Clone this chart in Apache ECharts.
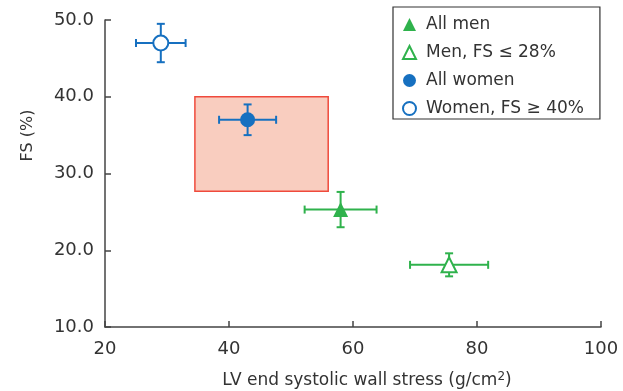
<!DOCTYPE html>
<html><head><meta charset="utf-8">
<script src="https://cdn.jsdelivr.net/npm/echarts@6/dist/echarts.min.js"></script>
<style>html,body{margin:0;padding:0;background:#fff}#c{width:623px;height:391px}</style>
</head><body><div id="c"></div>
<script>
const groups = ['All men', 'Men, FS \u2264 28%', 'All women', 'Women, FS \u2265 40%'];
const stressMean = [58, 75.5, 43, 29];
const stressSD = [5.8, 6.3, 4.6, 4.0];
const fsMean = [25.3, 18.1, 37, 47];
const fsSD = [2.3, 1.5, 2.0, 2.5];
const normalStress = [34.5, 56];
const normalFS = [27.7, 40];
const xTicks = [20, 40, 60, 80, 100];
const yTicks = [10, 20, 30, 40, 50];

const GREEN = '#2fb24c', BLUE = '#1670c0';
const colors = [GREEN, GREEN, BLUE, BLUE];
const symbols = ['triangle', 'triangle', 'circle', 'circle'];
const hollow = [false, true, false, true];
const FONT = 'DejaVu Sans';

const chart = echarts.init(document.getElementById('c'));
const series = [];
series.push({
  type: 'custom', silent: true, z: 1,
  data: [[normalStress[0], normalFS[0], normalStress[1], normalFS[1]]],
  renderItem: function (params, api) {
    const p0 = api.coord([api.value(0), api.value(3)]);
    const p1 = api.coord([api.value(2), api.value(1)]);
    return { type: 'rect', shape: { x: p0[0], y: p0[1], width: p1[0] - p0[0], height: p1[1] - p0[1] },
      style: { fill: '#f9cdbf', stroke: '#ef4a3c', lineWidth: 1.5 } };
  }
});
groups.forEach(function (g, i) {
  series.push({
    type: 'custom', silent: true, z: 2,
    data: [[stressMean[i], fsMean[i], stressSD[i], fsSD[i]]],
    renderItem: function (params, api) {
      const x = api.value(0), y = api.value(1), dx = api.value(2), dy = api.value(3);
      const l = api.coord([x - dx, y]), r = api.coord([x + dx, y]);
      const t = api.coord([x, y + dy]), b = api.coord([x, y - dy]);
      const c = 4;
      const st = { stroke: colors[i], lineWidth: 2 };
      const line = (x1, y1, x2, y2) => ({ type: 'line', shape: { x1, y1, x2, y2 }, style: st });
      return { type: 'group', children: [
        line(l[0], l[1], r[0], r[1]),
        line(t[0], t[1], b[0], b[1]),
        line(l[0], l[1] - c, l[0], l[1] + c),
        line(r[0], r[1] - c, r[0], r[1] + c),
        line(t[0] - c, t[1], t[0] + c, t[1]),
        line(b[0] - c, b[1], b[0] + c, b[1])
      ] };
    }
  });
  series.push({
    name: g, type: 'scatter', z: 3,
    symbol: symbols[i], symbolSize: 15,
    itemStyle: hollow[i] ? { color: '#fff', borderColor: colors[i], borderWidth: 2, opacity: 1 } : { color: colors[i], opacity: 1 },
    data: [[stressMean[i], fsMean[i]]]
  });
});

chart.setOption({
  animation: false,
  grid: { left: 105, right: 22, top: 20, bottom: 64, outerBoundsMode: 'none', containLabel: false },
  legend: {
    orient: 'vertical', left: 393, top: 7,
    padding: [9, 16, 2, 9], itemGap: 11, itemWidth: 13, itemHeight: 13,
    borderColor: '#333', borderWidth: 1.2, backgroundColor: '#fff',
    textStyle: { fontFamily: FONT, fontSize: 17, color: '#333', padding: [0, 0, 0, 5] },
    data: groups
  },
  xAxis: {
    type: 'value', min: 20, max: 100, interval: 20,
    name: 'LV end systolic wall stress (g/cm{s|2})', nameLocation: 'middle', nameGap: 44,
    nameTextStyle: { fontFamily: FONT, fontSize: 17, color: '#333', padding: [0, 0, 0, 28],
      rich: { s: { fontFamily: FONT, fontSize: 12, verticalAlign: 'top', padding: [0, 0, 8, 0], color: '#333' } } },
    axisLine: { lineStyle: { color: '#444', width: 1.5 } },
    axisTick: { inside: true, length: 6, lineStyle: { color: '#444', width: 1.5 } },
    axisLabel: { fontFamily: FONT, fontSize: 18, color: '#333', margin: 13,
      customValues: xTicks },
    splitLine: { show: false }
  },
  yAxis: {
    type: 'value', min: 10, max: 50, interval: 10,
    name: 'FS (%)', nameLocation: 'middle', nameGap: 69,
    nameTextStyle: { fontFamily: FONT, fontSize: 16, color: '#333', padding: [0, 0, 0, 76] },
    axisLine: { lineStyle: { color: '#444', width: 1.5 } },
    axisTick: { inside: true, length: 6, lineStyle: { color: '#444', width: 1.5 } },
    axisLabel: { fontFamily: FONT, fontSize: 18, color: '#333', margin: 11,
      formatter: v => yTicks.indexOf(v) >= 0 ? v.toFixed(1) : '' },
    splitLine: { show: false }
  },
  series: series
});
</script></body></html>
